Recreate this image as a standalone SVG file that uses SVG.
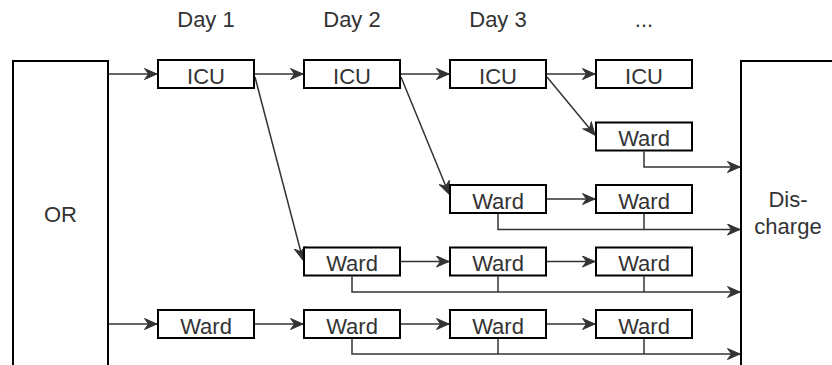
<svg xmlns="http://www.w3.org/2000/svg" width="832" height="365" viewBox="0 0 832 365">
<style>
.box{fill:#fff;stroke:#000;stroke-width:2}
.t{font-family:"Liberation Sans",Arial,Helvetica,sans-serif;font-size:22px;fill:#333;text-anchor:middle}
.c{fill:none;stroke:#333;stroke-width:1.5}
.a{marker-end:url(#ar)}
</style>
<defs>
<marker id="ar" markerUnits="userSpaceOnUse" viewBox="-13 -6 14 12" markerWidth="14" markerHeight="12" refX="0" refY="0" orient="auto">
<path d="M0,0 L-12.5,-5.5 L-8.5,0 L-12.5,5.5 Z" fill="#333" stroke="#333" stroke-width="1" stroke-linejoin="miter"/>
</marker>
</defs>
<rect width="832" height="365" fill="#fff"/>
<g id="labels">
<text class="t" x="206" y="27">Day 1</text>
<text class="t" x="352" y="27">Day 2</text>
<text class="t" x="498" y="27">Day 3</text>
<text class="t" x="644" y="27">...</text>
</g>
<g id="connectors">
<path class="c a" d="M109,74 H157"/>
<path class="c a" d="M109,324 H157"/>
<path class="c a" d="M255,74 H303"/>
<path class="c a" d="M401,74 H449"/>
<path class="c a" d="M547,74 H595"/>
<path class="c a" d="M255,77 L303,260"/>
<path class="c a" d="M401,77 L449,194"/>
<path class="c a" d="M547,77 L595,135"/>
<path class="c a" d="M547,199 H595"/>
<path class="c a" d="M401,261.5 H449"/>
<path class="c a" d="M547,261.5 H595"/>
<path class="c a" d="M255,324 H303"/>
<path class="c a" d="M401,324 H449"/>
<path class="c a" d="M547,324 H595"/>
<path class="c a" d="M644,151.5 V167 H740"/>
<path class="c a" d="M498,214 V229.5 H740"/>
<path class="c" d="M644,214 V229.5"/>
<path class="c a" d="M352,276.5 V292 H740"/>
<path class="c" d="M498,276.5 V292"/>
<path class="c" d="M644,276.5 V292"/>
<path class="c a" d="M352,339 V354 H740"/>
<path class="c" d="M498,339 V354"/>
<path class="c" d="M644,339 V354"/>
</g>
<g id="or"><rect class="box" x="13" y="61" width="95" height="320"/><text class="t" x="60.5" y="222">OR</text></g>
<g id="discharge"><rect class="box" x="741" y="61" width="95" height="320"/><text class="t" x="788" y="206.5">Dis-</text><text class="t" x="788" y="234">charge</text></g>
<g id="icu1"><rect class="box" x="158" y="60" width="96" height="28"/><text class="t" x="206" y="83.5">ICU</text></g>
<g id="icu2"><rect class="box" x="304" y="60" width="96" height="28"/><text class="t" x="352" y="83.5">ICU</text></g>
<g id="icu3"><rect class="box" x="450" y="60" width="96" height="28"/><text class="t" x="498" y="83.5">ICU</text></g>
<g id="icu4"><rect class="box" x="596" y="60" width="96" height="28"/><text class="t" x="644" y="83.5">ICU</text></g>
<g id="ward1_4"><rect class="box" x="596" y="122.5" width="96" height="28"/><text class="t" x="644" y="146">Ward</text></g>
<g id="ward2_3"><rect class="box" x="450" y="185" width="96" height="28"/><text class="t" x="498" y="208.5">Ward</text></g>
<g id="ward2_4"><rect class="box" x="596" y="185" width="96" height="28"/><text class="t" x="644" y="208.5">Ward</text></g>
<g id="ward3_2"><rect class="box" x="304" y="247.5" width="96" height="28"/><text class="t" x="352" y="271">Ward</text></g>
<g id="ward3_3"><rect class="box" x="450" y="247.5" width="96" height="28"/><text class="t" x="498" y="271">Ward</text></g>
<g id="ward3_4"><rect class="box" x="596" y="247.5" width="96" height="28"/><text class="t" x="644" y="271">Ward</text></g>
<g id="ward4_1"><rect class="box" x="158" y="310" width="96" height="28"/><text class="t" x="206" y="333.5">Ward</text></g>
<g id="ward4_2"><rect class="box" x="304" y="310" width="96" height="28"/><text class="t" x="352" y="333.5">Ward</text></g>
<g id="ward4_3"><rect class="box" x="450" y="310" width="96" height="28"/><text class="t" x="498" y="333.5">Ward</text></g>
<g id="ward4_4"><rect class="box" x="596" y="310" width="96" height="28"/><text class="t" x="644" y="333.5">Ward</text></g>
</svg>
